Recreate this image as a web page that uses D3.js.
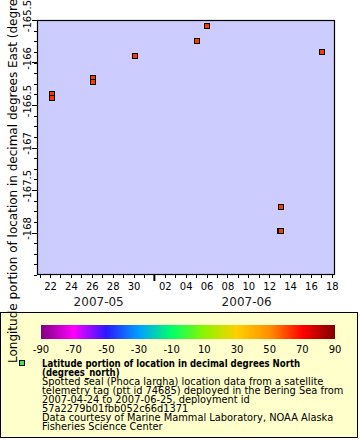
<!DOCTYPE html>
<html>
<head>
<meta charset="utf-8">
<script src="https://cdn.jsdelivr.net/npm/d3@7"></script>
<style>
  html, body { margin: 0; padding: 0; background: #ffffff; }
  svg { display: block; font-family: "DejaVu Sans", sans-serif; }
</style>
</head>
<body>
<svg id="chart" width="360" height="440"></svg>
<script>
// ---- data ----
const times = [
  "2007-05-22T04:00:00Z", "2007-05-22T05:00:00Z",
  "2007-05-26T02:30:00Z", "2007-05-26T03:00:00Z",
  "2007-05-30T03:00:00Z",
  "2007-06-05T02:00:00Z",
  "2007-06-06T01:00:00Z",
  "2007-06-13T02:40:00Z", "2007-06-13T00:30:00Z", "2007-06-13T02:40:00Z",
  "2007-06-17T01:40:00Z"
];
const longitudes = [
  -166.376, -166.423,
  -166.180, -166.233,
  -165.920,
  -165.747,
  -165.567,
  -167.700, -167.980, -167.980,
  -165.872
];
const latitudes = [62.6, 62.6, 62.4, 62.4, 62.5, 62.7, 62.8, 62.3, 62.2, 62.2, 62.6];
const xTickDays = [22, 24, 26, 28, 30, "02", "04", "06", "08", 10, 12, 14, 16, 18];
const monthLabels = ["2007-05", "2007-06"];
const yTickLabels = ["-165.5", "-166", "-166.5", "-167", "-167.5", "-168"];
const colorTicks = [-90, -70, -50, -30, -10, 10, 30, 50, 70, 90];
const colorStops = [
  [-90, "#800080"], [-70, "#ff00ff"], [-50, "#2a1aff"], [-30, "#00a0ff"],
  [-10, "#00ff6a"], [10, "#8cf500"], [30, "#ffd000"], [50, "#ff9000"],
  [70, "#ff0000"], [90, "#800000"]
];
const yTitle = "Longitude portion of location in decimal degrees East (degrees_east)";
const legendBold = ["Latitude portion of location in decimal degrees North", "(degrees_north)"];
const legendText = [
  "Spotted seal (Phoca largha) location data from a satellite",
  "telemetry tag (ptt id 74685) deployed in the Bering Sea from",
  "2007-04-24 to 2007-06-25, deployment id",
  "57a2279b01fbb052c66d1371",
  "Data courtesy of Marine Mammal Laboratory, NOAA Alaska",
  "Fisheries Science Center"
];

// ---- layout ----
const svg = d3.select("#chart");
const L = 37, R = 335, T = 20, B = 275;

const x = d3.scaleUtc()
  .domain([new Date("2007-05-20T18:00:00Z"), new Date("2007-06-18T07:30:00Z")])
  .range([L, R]);
const y = d3.scaleLinear().domain([-168.5, -165.5]).range([B, T]);
const color = d3.scaleLinear()
  .domain(colorStops.map(d => d[0]))
  .range(colorStops.map(d => d[1]))
  .interpolate(d3.interpolateRgb);

// plot background
svg.append("rect").attr("x", L).attr("y", T).attr("width", R - L).attr("height", B - T)
  .attr("fill", "#ccccff");

// x axis (minor daily ticks)
const xAxisG = svg.append("g").attr("transform", `translate(0,${B})`);
xAxisG.call(d3.axisBottom(x).ticks(d3.utcDay.every(1)).tickSize(3).tickFormat(""));
xAxisG.select(".domain").remove();
xAxisG.selectAll("line").attr("stroke", "#000").attr("shape-rendering", "crispEdges");
// labeled ticks
const labelDates = xTickDays.map((d, i) => {
  const m = i < 5 ? "05" : "06";
  const dd = String(d).padStart(2, "0");
  return new Date(`2007-${m}-${dd}T00:00:00Z`);
});
const xLabG = svg.append("g").attr("transform", `translate(0,${B})`);
xLabG.call(d3.axisBottom(x).tickValues(labelDates).tickSize(0).tickPadding(8)
  .tickFormat((d, i) => String(xTickDays[i]).padStart(2, "0")));
xLabG.select(".domain").remove();
xLabG.selectAll("text").attr("font-family", "DejaVu Sans").attr("font-size", 10).attr("fill", "#000");
// month boundary tick
const monthStart = new Date("2007-06-01T00:00:00Z");
svg.append("line").attr("x1", x(monthStart)).attr("x2", x(monthStart))
  .attr("y1", B).attr("y2", B + 6).attr("stroke", "#000").attr("stroke-width", 2);
// month labels
const monthCenters = [
  [new Date("2007-05-20T18:00:00Z"), monthStart],
  [monthStart, new Date("2007-06-18T07:30:00Z")]
];
svg.selectAll("text.month").data(monthLabels).join("text").attr("class", "month")
  .attr("x", (d, i) => (x(monthCenters[i][0]) + x(monthCenters[i][1])) / 2 + (i === 0 ? 3 : 2))
  .attr("y", 306).attr("text-anchor", "middle").attr("font-size", 12).attr("fill", "#222")
  .text(d => d);

// y axis
const yAxisG = svg.append("g").attr("transform", `translate(${L},0)`);
yAxisG.call(d3.axisLeft(y).ticks(24).tickValues(d3.range(24).map(i => -168.5 + i * 0.125))
  .tickSize(3).tickFormat(""));
yAxisG.select(".domain").remove();
yAxisG.selectAll("line").attr("stroke", "#000").attr("shape-rendering", "crispEdges");
const yMajor = yTickLabels.map(Number);
svg.append("g").selectAll("line").data(yMajor).join("line")
  .attr("x1", L - 5).attr("x2", L).attr("y1", d => Math.round(y(d)) + 0.5).attr("y2", d => Math.round(y(d)) + 0.5)
  .attr("stroke", "#000");
svg.append("g").selectAll("text").data(yTickLabels).join("text")
  .attr("transform", d => `translate(31,${y(+d) - 4}) rotate(-90)`)
  .attr("text-anchor", "middle").attr("font-size", 10).attr("fill", "#000")
  .text(d => d);

// frame
svg.append("rect").attr("x", L + 0.5).attr("y", T + 0.5).attr("width", R - L - 1).attr("height", B - T - 1)
  .attr("fill", "none").attr("stroke", "#000").attr("stroke-width", 1.2);

// points
svg.append("g").selectAll("rect").data(times.map((t, i) => ({ t: new Date(t), lon: longitudes[i], lat: latitudes[i] })))
  .join("rect")
  .attr("x", d => Math.round(x(d.t)) - 2.5).attr("y", d => Math.round(y(d.lon)) - 2.5)
  .attr("width", 5).attr("height", 5)
  .attr("fill", d => color(d.lat)).attr("stroke", "#000").attr("stroke-width", 1);

// legend box
svg.append("rect").attr("x", 0.5).attr("y", 312.5).attr("width", 357).attr("height", 125)
  .attr("fill", "#ffffcc").attr("stroke", "#000");

// colorbar
const cb = d3.scaleLinear().domain([-90, 90]).range([41, 335]);
const defs = svg.append("defs");
const grad = defs.append("linearGradient").attr("id", "cbar").attr("x1", "0%").attr("x2", "100%");
grad.selectAll("stop").data(colorStops).join("stop")
  .attr("offset", d => ((d[0] + 90) / 180 * 100) + "%").attr("stop-color", d => d[1]);
svg.append("rect").attr("x", cb(-90)).attr("y", 325).attr("width", cb(90) - cb(-90)).attr("height", 14)
  .attr("fill", "url(#cbar)");
svg.append("g").selectAll("text").data(colorTicks).join("text")
  .attr("x", d => cb(d)).attr("y", 353).attr("text-anchor", "middle")
  .attr("font-size", 10).attr("fill", "#000").text(d => d);

// legend marker
svg.append("rect").attr("x", 19.5).attr("y", 360.5).attr("width", 5).attr("height", 5)
  .attr("fill", "#33ee33").attr("stroke", "#000");

// legend text
svg.append("g").selectAll("text").data(legendBold).join("text")
  .attr("x", 42).attr("y", (d, i) => 367 + i * 9)
  .attr("font-size", 10).attr("font-weight", "bold").attr("fill", "#000")
  .text(d => d)
  .each(function (d, i) {
    const w = this.getComputedTextLength();
    const target = w * 0.857;
    d3.select(this).attr("textLength", target).attr("lengthAdjust", "spacingAndGlyphs");
  });
svg.append("g").selectAll("text").data(legendText).join("text")
  .attr("x", 42).attr("y", (d, i) => 385 + i * 9)
  .attr("font-size", 9.85).attr("fill", "#000")
  .text(d => d);

// y title
svg.append("text").attr("transform", "translate(17,363) rotate(-90)")
  .attr("text-anchor", "start").attr("font-size", 12).attr("fill", "#000")
  .text(yTitle);
</script>
</body>
</html>
